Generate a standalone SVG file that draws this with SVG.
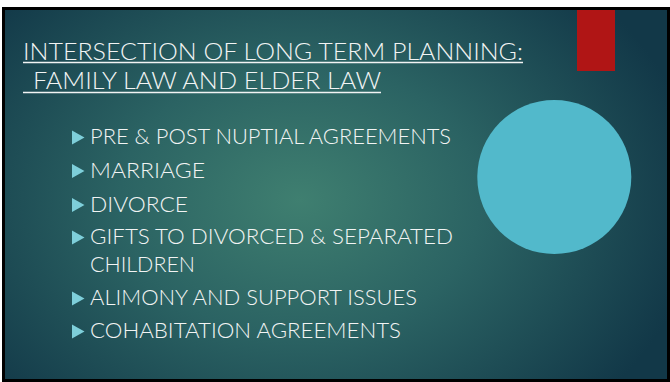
<svg xmlns="http://www.w3.org/2000/svg" width="670" height="382" viewBox="0 0 670 382">
  <defs>
    <radialGradient id="bg" cx="300" cy="200" r="400" gradientUnits="userSpaceOnUse" gradientTransform="translate(300 200) scale(1 0.75) translate(-300 -200)">
      <stop offset="0" stop-color="#3F7F70"/>
      <stop offset="0.45" stop-color="#2B6363"/>
      <stop offset="1" stop-color="#123848"/>
    </radialGradient>
    <style>
      .t { font-family: Lato, "Liberation Sans", sans-serif; font-weight: 300; fill: #F2F4F4; }
      .title { font-size: 24px; }
      .item { font-size: 22px; }
      .bullet { fill: #7ECFDA; }
      .ul { stroke: #F2F4F4; stroke-width: 1.3; }
    </style>
  </defs>
  <rect x="0" y="0" width="670" height="382" fill="#FFFFFF"/>
  <rect x="2" y="7" width="668" height="375" fill="#000000"/>
  <rect x="5" y="10" width="662" height="369" fill="url(#bg)"/>

  <g id="red-bar"><rect x="577" y="10" width="38" height="61" fill="#B01515"/></g>
  <g id="circle"><circle cx="554.3" cy="177" r="77" fill="#52B9CB"/></g>

  <g id="title">
    <text class="t title" x="23" y="59.5" textLength="500" lengthAdjust="spacingAndGlyphs">INTERSECTION OF LONG TERM PLANNING:</text>
    <line class="ul" x1="23" y1="62.5" x2="523" y2="62.5"/>
    <text class="t title" x="33" y="89" textLength="348" lengthAdjust="spacingAndGlyphs">FAMILY LAW AND ELDER LAW</text>
    <line class="ul" x1="23" y1="92.5" x2="381" y2="92.5"/>
  </g>

  <g id="bullets">
    <polygon class="bullet" points="72,130.5 84.5,137.5 72,144.5"/>
    <text class="t item" x="90" y="144" textLength="361" lengthAdjust="spacingAndGlyphs">PRE &amp; POST NUPTIAL AGREEMENTS</text>
    <polygon class="bullet" points="72,164 84.5,171 72,178"/>
    <text class="t item" x="90" y="177.7" textLength="115" lengthAdjust="spacingAndGlyphs">MARRIAGE</text>
    <polygon class="bullet" points="72,198 84.5,205 72,212"/>
    <text class="t item" x="90" y="211.7" textLength="98" lengthAdjust="spacingAndGlyphs">DIVORCE</text>
    <polygon class="bullet" points="72,230.5 84.5,237.5 72,244.5"/>
    <text class="t item" x="90" y="244.3" textLength="363" lengthAdjust="spacingAndGlyphs">GIFTS TO DIVORCED &amp; SEPARATED</text>
    <text class="t item" x="90" y="271.7" textLength="105" lengthAdjust="spacingAndGlyphs">CHILDREN</text>
    <polygon class="bullet" points="72,291.5 84.5,298.5 72,305.5"/>
    <text class="t item" x="90" y="305" textLength="327" lengthAdjust="spacingAndGlyphs">ALIMONY AND SUPPORT ISSUES</text>
    <polygon class="bullet" points="72,324.5 84.5,331.5 72,338.5"/>
    <text class="t item" x="90" y="338.3" textLength="311" lengthAdjust="spacingAndGlyphs">COHABITATION AGREEMENTS</text>
  </g>
</svg>
